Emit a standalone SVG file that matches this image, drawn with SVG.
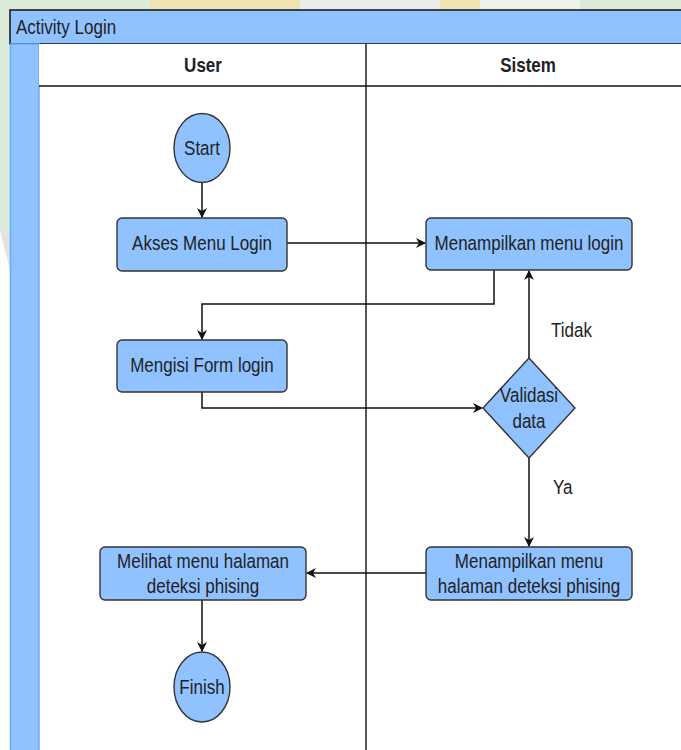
<svg xmlns="http://www.w3.org/2000/svg" width="681" height="750" viewBox="0 0 681 750">
  <style>
    .lbl { font-family: "Liberation Sans", Arial, sans-serif; font-size: 17px; fill: #222; }
    .mid { text-anchor: middle; }
    .bold { font-weight: bold; }
    .node { fill: #90c2ff; stroke: #333; stroke-width: 1.4; }
    .edge { fill: none; stroke: #111; stroke-width: 1.5; }
    .lane { fill: none; stroke: #111; stroke-width: 1.4; }
  </style>
  <defs>
    <marker id="arrow" viewBox="0 0 10 10" refX="9" refY="5" markerWidth="10" markerHeight="10" markerUnits="userSpaceOnUse" orient="auto">
      <path d="M0,0 L10,5 L0,10 L3,5 Z" fill="#111"/>
    </marker>
  </defs>

  <!-- page background -->
  <rect x="0" y="0" width="681" height="750" fill="#ffffff"/>
  <rect x="0" y="0" width="681" height="10" fill="#dcebd9"/>
  <rect x="0" y="0" width="10" height="230" fill="#dcebd9"/>
  <path d="M0,230 L10,230 L10,270 Z" fill="#e2e2e2"/>
  <rect x="150" y="0" width="150" height="10" fill="#efe3b2"/>
  <rect x="300" y="0" width="140" height="10" fill="#ececec"/>
  <rect x="440" y="0" width="40" height="10" fill="#efe3b2"/>
  <rect x="480" y="0" width="100" height="10" fill="#eef1ea"/>

  <!-- pool -->
  <g id="pool">
    <rect x="10" y="10" width="680" height="34" fill="#90c2ff" stroke="#111" stroke-width="1.5"/>
    <rect x="10.5" y="44" width="28.5" height="720" fill="#90c2ff" stroke="#66aaff" stroke-width="1.5"/>
    <rect x="39" y="44" width="650" height="42" fill="#ffffff"/>
    <line class="lane" x1="39" y1="86" x2="681" y2="86"/>
    <line class="lane" x1="366" y1="44" x2="366" y2="750"/>
    <text class="lbl" transform="translate(16,27) scale(1,1.17)" y="6">Activity Login</text>
    <text class="lbl mid bold" transform="translate(203,65) scale(1,1.17)" y="6">User</text>
    <text class="lbl mid bold" transform="translate(528,65) scale(1,1.17)" y="6">Sistem</text>
  </g>

  <!-- connectors -->
  <g id="connectors">
    <line class="edge" x1="202" y1="183" x2="202" y2="217" marker-end="url(#arrow)"/>
    <line class="edge" x1="287" y1="243" x2="425" y2="243" marker-end="url(#arrow)"/>
    <polyline class="edge" points="494,270 494,304 202,304 202,339" marker-end="url(#arrow)"/>
    <polyline class="edge" points="202,392 202,408 482,408" marker-end="url(#arrow)"/>
    <line class="edge" x1="529" y1="358" x2="529" y2="271" marker-end="url(#arrow)"/>
    <line class="edge" x1="529" y1="458" x2="529" y2="546" marker-end="url(#arrow)"/>
    <line class="edge" x1="426" y1="573" x2="307" y2="573" marker-end="url(#arrow)"/>
    <line class="edge" x1="202" y1="600" x2="202" y2="651" marker-end="url(#arrow)"/>
    <text class="lbl" transform="translate(551,330) scale(1,1.17)" y="6" fill="#333">Tidak</text>
    <text class="lbl" transform="translate(553,487) scale(1,1.17)" y="6" fill="#333">Ya</text>
  </g>

  <g id="start">
    <ellipse class="node" cx="202" cy="148" rx="28" ry="34.5"/>
    <text class="lbl mid" transform="translate(202,148) scale(1,1.17)" y="6">Start</text>
  </g>

  <g id="akses-menu-login">
    <rect class="node" x="117" y="218" width="170" height="53" rx="5"/>
    <text class="lbl mid" transform="translate(202,243) scale(1,1.17)" y="6">Akses Menu Login</text>
  </g>

  <g id="menampilkan-menu-login">
    <rect class="node" x="426" y="218" width="206" height="52" rx="5"/>
    <text class="lbl mid" transform="translate(529,243) scale(1,1.17)" y="6">Menampilkan menu login</text>
  </g>

  <g id="mengisi-form-login">
    <rect class="node" x="117" y="340" width="170" height="52" rx="5"/>
    <text class="lbl mid" transform="translate(202,365) scale(1,1.17)" y="6">Mengisi Form login</text>
  </g>

  <g id="validasi-data">
    <polygon class="node" points="529,358 575,408 529,458 483,408"/>
    <text class="lbl mid" transform="translate(529,395) scale(1,1.17)" y="6">Validasi</text>
    <text class="lbl mid" transform="translate(529,421) scale(1,1.17)" y="6">data</text>
  </g>

  <g id="menampilkan-halaman-deteksi">
    <rect class="node" x="426" y="547" width="206" height="53" rx="5"/>
    <text class="lbl mid" transform="translate(529,561) scale(1,1.17)" y="6">Menampilkan menu</text>
    <text class="lbl mid" transform="translate(529,586) scale(1,1.17)" y="6">halaman deteksi phising</text>
  </g>

  <g id="melihat-halaman-deteksi">
    <rect class="node" x="100" y="547" width="206" height="53" rx="5"/>
    <text class="lbl mid" transform="translate(203,561) scale(1,1.17)" y="6">Melihat menu halaman</text>
    <text class="lbl mid" transform="translate(203,586) scale(1,1.17)" y="6">deteksi phising</text>
  </g>

  <g id="finish">
    <ellipse class="node" cx="202" cy="687" rx="28" ry="35"/>
    <text class="lbl mid" transform="translate(202,687) scale(1,1.17)" y="6">Finish</text>
  </g>
</svg>
